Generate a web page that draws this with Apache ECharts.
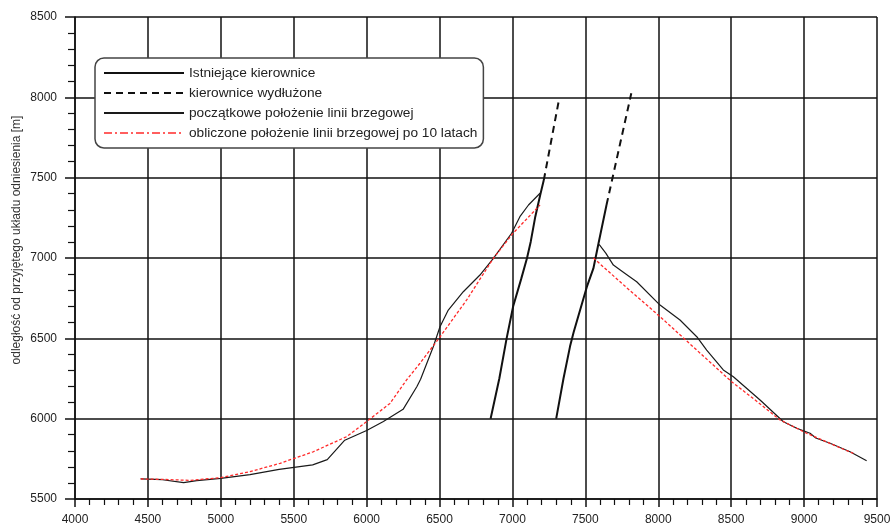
<!DOCTYPE html>
<html>
<head>
<meta charset="utf-8">
<script src="https://cdn.jsdelivr.net/npm/echarts@6/dist/echarts.min.js"></script>
<style>
  html, body { margin: 0; padding: 0; background: #fff; }
  #chart { width: 895px; height: 529px; }
</style>
</head>
<body>
<div id="chart"></div>
<script>
// Axis ranges (m)
const xRange = [4000, 9500];
const yRange = [5500, 8500];
const tickStep = 500;

// Legend entries
const legendNames = [
  'Istniejące kierownice',
  'kierownice wydłużone',
  'początkowe położenie linii brzegowej',
  'obliczone położenie linii brzegowej po 10 latach'
];

// Existing groynes [x, y]
const groyneWest = [[6850,6000],[6910,6250],[6960,6500],[7005,6700],[7060,6870],[7100,7000],[7125,7100],[7155,7250],[7190,7390],[7215,7485]];
const groyneEast = [[7300,6000],[7350,6250],[7395,6450],[7420,6540],[7465,6680],[7510,6820],[7555,6935],[7590,7090],[7645,7330]];

// Extended groynes
const extWest = [[7215,7485],[7320,7990]];
const extEast = [[7645,7330],[7815,8025]];

// Initial shoreline position
const shoreWest = [[4450,5625],[4600,5620],[4745,5602],[4835,5614],[5000,5628],[5200,5652],[5400,5684],[5630,5712],[5730,5745],[5850,5866],[6000,5926],[6115,5982],[6250,6058],[6345,6200],[6370,6245],[6457,6448],[6503,6572],[6560,6676],[6663,6790],[6777,6894],[6869,6998],[6994,7154],[7051,7257],[7110,7330],[7189,7403]];
const shoreEast = [[7594,7085],[7640,7030],[7692,6956],[7770,6905],[7852,6852],[8012,6707],[8149,6614],[8264,6510],[8332,6427],[8446,6303],[8515,6261],[8698,6116],[8858,5981],[8950,5940],[9041,5909],[9080,5880],[9178,5847],[9315,5794],[9429,5738]];

// Computed shoreline after 10 years
const calcWest = [[4450,5625],[4600,5622],[4789,5616],[5000,5633],[5200,5670],[5406,5722],[5634,5794],[5863,5888],[6000,5982],[6160,6095],[6274,6241],[6366,6345],[6500,6505],[6686,6739],[6869,6998],[7000,7150],[7189,7330]];
const calcEast = [[7555,7000],[7780,6818],[8012,6635],[8260,6430],[8503,6230],[8680,6105],[8835,5992],[9018,5909],[9180,5845],[9338,5784]];

const yTitle = 'odległość od przyjętego układu odniesienia [m]';

const FONT = '"Liberation Sans", Arial, sans-serif';
const INK = '#111';

const groyneStyle = { color: INK, width: 2 };
const extStyle = { color: INK, width: 2, type: [7, 5] };
const shoreStyle = { color: '#1a1a1a', width: 1.2 };
const calcStyle = { color: '#ff2a2a', width: 1.3, type: [3, 2] };

function lineSeries(name, data, style, z) {
  return {
    type: 'line', name, data,
    showSymbol: false, symbol: 'none',
    lineStyle: style,
    // no point markers anywhere, including the legend icon
    itemStyle: { color: style.color, opacity: 0 },
    z: z, silent: true
  };
}

function axisCommon(tickLen, minorLen, margin) {
  return {
    type: 'value',
    interval: tickStep,
    axisLine: { show: true, onZero: false, lineStyle: { color: INK, width: 1.5 } },
    axisTick: { show: true, inside: false, length: tickLen, lineStyle: { color: INK, width: 1.5 } },
    minorTick: { show: true, splitNumber: 5, length: minorLen, lineStyle: { color: INK, width: 1.2 } },
    splitLine: { show: true, lineStyle: { color: INK, width: 1.5 } },
    axisLabel: {
      fontSize: 12, color: '#222', fontFamily: FONT, margin: margin,
      formatter: (v) => String(v)
    }
  };
}

const chart = echarts.init(document.getElementById('chart'), null, { renderer: 'canvas' });

chart.setOption({
  animation: false,
  backgroundColor: '#fff',
  grid: { left: 75, right: 18, top: 17, bottom: 30, containLabel: false },
  xAxis: Object.assign(axisCommon(8, 6, 15), { min: xRange[0], max: xRange[1] }),
  yAxis: Object.assign(axisCommon(10, 7, 18), { min: yRange[0], max: yRange[1] }),
  legend: {
    left: 95, top: 58,
    orient: 'vertical',
    backgroundColor: '#fff',
    borderColor: '#444', borderWidth: 1.5, borderRadius: 9,
    padding: [8, 6, 8, 8],
    itemWidth: 80, itemHeight: 14, itemGap: 6,
    itemStyle: { opacity: 0 },
    textStyle: { fontSize: 13.7, color: '#222', fontFamily: FONT },
    data: [
      { name: legendNames[0] },
      { name: legendNames[1] },
      { name: legendNames[2] },
      { name: legendNames[3], lineStyle: { type: [8, 3, 2, 3], width: 1.5 } }
    ],
    selectedMode: false
  },
  graphic: [{
    type: 'text', x: 17, y: 240, rotation: Math.PI / 2,
    style: { text: yTitle, fontSize: 12, fill: '#333', fontFamily: FONT, align: 'center', verticalAlign: 'middle' }
  }],
  series: [
    lineSeries(legendNames[0], groyneWest, groyneStyle, 4),
    lineSeries(legendNames[0], groyneEast, groyneStyle, 4),
    lineSeries(legendNames[1], extWest, extStyle, 4),
    lineSeries(legendNames[1], extEast, extStyle, 4),
    lineSeries(legendNames[2], shoreWest, shoreStyle, 3),
    lineSeries(legendNames[2], shoreEast, shoreStyle, 3),
    lineSeries(legendNames[3], calcWest, calcStyle, 5),
    lineSeries(legendNames[3], calcEast, calcStyle, 5)
  ]
});
</script>
</body>
</html>
